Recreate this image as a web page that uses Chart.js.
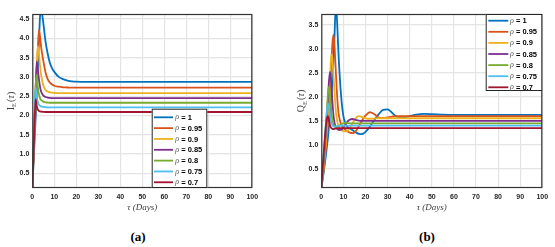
<!DOCTYPE html>
<html><head><meta charset="utf-8">
<script src="https://cdn.jsdelivr.net/npm/chart.js@4.4.1/dist/chart.umd.min.js"></script>
<style>
body{margin:0;background:#fff;width:555px;height:247px;overflow:hidden;position:relative}
canvas{position:absolute;top:0}
.lab{position:absolute;top:229px;line-height:15px;font:bold 13px 'Liberation Serif',serif;color:#000;transform:translateX(-50%)}
</style></head><body>
<canvas id="cI" style="left:0" width="270" height="215"></canvas>
<canvas id="cQ" style="left:280px" width="275" height="215"></canvas>
<div class="lab" style="left:138px">(a)</div>
<div class="lab" style="left:427px">(b)</div>
<script>
// ---------- data ----------
const rhoLabels = ['1','0.95','0.9','0.85','0.8','0.75','0.7'];
const xTicks = [0,10,20,30,40,50,60,70,80,90,100];
const yTicksI = [0.5,1,1.5,2,2.5,3,3.5,4,4.5];
const yTicksQ = [0.5,1,1.5,2,2.5,3,3.5];

const tauI = [0,0.5,1,1.5,2,2.5,3,3.5,4,5,6,7,8,9,10,12,14,16,18,20,25,30,40,50,60,70,80,90,100];
const I_rho100 = [0.1,0.7,1.3,1.9,2.55,3.2,3.9,4.55,4.75,4.4,3.92,3.6,3.36,3.22,3.13,3.0,2.94,2.905,2.885,2.875,2.87,2.87,2.87,2.87,2.87,2.87,2.87,2.87,2.87];
const I_rho095 = [0.1,0.8,1.5,2.2,2.95,3.7,4.22,4.05,3.78,3.42,3.12,2.94,2.85,2.8,2.77,2.745,2.73,2.725,2.72,2.72,2.72,2.72,2.72,2.72,2.72,2.72,2.72,2.72,2.72];
const I_rho090 = [0.1,0.85,1.6,2.4,3.2,3.8,3.6,3.3,3.05,2.78,2.66,2.62,2.6,2.59,2.585,2.58,2.58,2.58,2.58,2.58,2.58,2.58,2.58,2.58,2.58,2.58,2.58,2.58,2.58];
const I_rho085 = [0.1,0.95,1.8,2.65,3.4,3.2,2.95,2.75,2.62,2.52,2.48,2.465,2.455,2.45,2.45,2.45,2.45,2.45,2.45,2.45,2.45,2.45,2.45,2.45,2.45,2.45,2.45,2.45,2.45];
const I_rho080 = [0.1,1.0,1.9,2.75,3.05,2.75,2.55,2.45,2.4,2.36,2.34,2.335,2.33,2.33,2.33,2.33,2.33,2.33,2.33,2.33,2.33,2.33,2.33,2.33,2.33,2.33,2.33,2.33,2.33];
const I_rho075 = [0.1,1.0,1.9,2.72,2.5,2.35,2.28,2.25,2.235,2.22,2.215,2.21,2.21,2.21,2.21,2.21,2.21,2.21,2.21,2.21,2.21,2.21,2.21,2.21,2.21,2.21,2.21,2.21,2.21];
const I_rho070 = [0.1,0.9,1.75,2.42,2.25,2.16,2.12,2.105,2.1,2.095,2.09,2.09,2.09,2.09,2.09,2.09,2.09,2.09,2.09,2.09,2.09,2.09,2.09,2.09,2.09,2.09,2.09,2.09,2.09];

const tauQ = [0,1,2,2.5,3,3.5,4,4.5,5,5.5,6,6.5,7,7.5,8,9,10,11,12,13,14,15,16,17,18,19,20,22,24,26,28,30,32,34,36,38,40,43,46,50,55,60,70,80,90,100];
const Q_rho100 = [0.1,0.4,0.75,0.95,1.15,1.4,1.65,1.95,2.3,2.75,3.3,3.85,3.7,3.2,2.7,2.0,1.6,1.43,1.37,1.34,1.31,1.28,1.25,1.23,1.225,1.235,1.27,1.38,1.52,1.64,1.73,1.74,1.67,1.59,1.57,1.58,1.6,1.63,1.645,1.64,1.63,1.625,1.625,1.625,1.625,1.625];
const Q_rho095 = [0.1,0.45,0.9,1.15,1.45,1.8,2.2,2.65,3.1,3.3,3.05,2.6,2.15,1.8,1.6,1.42,1.35,1.31,1.28,1.255,1.245,1.26,1.31,1.39,1.47,1.55,1.61,1.68,1.64,1.57,1.56,1.575,1.59,1.6,1.6,1.6,1.6,1.6,1.6,1.6,1.6,1.6,1.6,1.6,1.6,1.6];
const Q_rho090 = [0.1,0.5,1.0,1.3,1.65,2.05,2.45,2.88,2.8,2.45,2.1,1.75,1.55,1.43,1.37,1.31,1.285,1.28,1.3,1.36,1.44,1.52,1.575,1.6,1.59,1.57,1.555,1.545,1.55,1.555,1.555,1.555,1.555,1.555,1.555,1.555,1.555,1.555,1.555,1.555,1.555,1.555,1.555,1.555,1.555,1.555];
const Q_rho085 = [0.1,0.6,1.2,1.55,1.95,2.35,2.52,2.3,1.92,1.62,1.46,1.38,1.34,1.32,1.31,1.315,1.36,1.43,1.495,1.53,1.54,1.53,1.515,1.505,1.5,1.5,1.5,1.5,1.5,1.5,1.5,1.5,1.5,1.5,1.5,1.5,1.5,1.5,1.5,1.5,1.5,1.5,1.5,1.5,1.5,1.5];
const Q_rho080 = [0.1,0.7,1.35,1.7,2.05,2.22,2.0,1.72,1.53,1.43,1.385,1.37,1.37,1.38,1.395,1.43,1.455,1.46,1.455,1.45,1.45,1.45,1.45,1.45,1.45,1.45,1.45,1.45,1.45,1.45,1.45,1.45,1.45,1.45,1.45,1.45,1.45,1.45,1.45,1.45,1.45,1.45,1.45,1.45,1.45,1.45];
const Q_rho075 = [0.1,0.75,1.4,1.68,1.86,1.8,1.6,1.47,1.41,1.385,1.38,1.385,1.39,1.395,1.4,1.4,1.4,1.4,1.4,1.4,1.4,1.4,1.4,1.4,1.4,1.4,1.4,1.4,1.4,1.4,1.4,1.4,1.4,1.4,1.4,1.4,1.4,1.4,1.4,1.4,1.4,1.4,1.4,1.4,1.4,1.4];
const Q_rho070 = [0.1,0.75,1.35,1.55,1.6,1.5,1.4,1.35,1.335,1.33,1.335,1.34,1.345,1.35,1.35,1.35,1.35,1.35,1.35,1.35,1.35,1.35,1.35,1.35,1.35,1.35,1.35,1.35,1.35,1.35,1.35,1.35,1.35,1.35,1.35,1.35,1.35,1.35,1.35,1.35,1.35,1.35,1.35,1.35,1.35,1.35];

// ---------- styles ----------
const lineColors = ['#0072BD','#D95319','#EDB120','#7E2F8E','#77AC30','#4DBEEE','#A2142F'];
const gridColor = '#e4e4e4';

const frame = {
  id: 'frame',
  afterDraw(chart, args, o) {
    const ctx = chart.ctx, a = chart.chartArea;
    ctx.save();
    ctx.strokeStyle = '#333'; ctx.lineWidth = 1.2;
    ctx.strokeRect(a.left + 0.5, a.top + 0.5, a.right - a.left - 1, a.bottom - a.top - 1);
    // y axis title with subscript
    ctx.save();
    ctx.translate(o.titleX, (a.top + a.bottom) / 2);
    ctx.rotate(-Math.PI / 2);
    ctx.fillStyle = '#404040'; ctx.textBaseline = 'alphabetic';
    const fMain = '10px "Liberation Serif"', fSub = '6.5px "Liberation Serif"', fIt = 'italic 10px "Liberation Serif"';
    ctx.font = fMain; const w1 = ctx.measureText(o.titleMain).width; const wp = ctx.measureText('(').width; const wq = ctx.measureText(')').width;
    ctx.font = fSub; const w2 = ctx.measureText(o.titleSub).width;
    ctx.font = fIt; const wt = ctx.measureText('τ').width;
    let x = -(w1 + w2 + wp + wt + wq + 1) / 2; const by = 3.5;
    ctx.font = fMain; ctx.fillText(o.titleMain, x, by); x += w1;
    ctx.font = fSub; ctx.fillText(o.titleSub, x, by + 2.5); x += w2 + 1;
    ctx.font = fMain; ctx.fillText('(', x, by); x += wp;
    ctx.font = fIt; ctx.fillText('τ', x, by); x += wt;
    ctx.font = fMain; ctx.fillText(')', x, by);
    ctx.restore();
    // legend box
    const L = o.legend;
    ctx.fillStyle = '#fff'; ctx.fillRect(L.x, L.y, L.w, L.h);
    ctx.strokeStyle = '#262626'; ctx.lineWidth = 1;
    ctx.strokeRect(L.x + 0.5, L.y + 0.5, L.w - 1, L.h - 1);
    chart.data.datasets.forEach((ds, k) => {
      const y = L.y + L.first + k * L.dy;
      ctx.strokeStyle = ds.borderColor; ctx.lineWidth = 1.8;
      ctx.beginPath(); ctx.moveTo(L.x + L.l0, y); ctx.lineTo(L.x + L.l1, y); ctx.stroke();
      ctx.textBaseline = 'middle'; ctx.textAlign = 'left';
      ctx.fillStyle = '#555'; ctx.font = 'italic 8px "Liberation Serif"';
      ctx.fillText('ρ', L.x + L.t0, y);
      const w = ctx.measureText('ρ').width;
      ctx.fillStyle = '#000'; ctx.font = 'bold 7.5px "Liberation Sans"';
      ctx.fillText(' = ' + rhoLabels[k], L.x + L.t0 + w, y + 0.5);
    });
    ctx.restore();
  }
};

function build(id, tau, series, o) {
  const datasets = series.map((vals, k) => ({
    label: 'ρ = ' + rhoLabels[k],
    data: tau.map((t, i) => ({ x: t, y: vals[i] })),
    borderColor: lineColors[k], backgroundColor: lineColors[k],
    borderWidth: 1.8, pointRadius: 0, fill: false,
    cubicInterpolationMode: 'monotone', order: series.length - k
  }));
  const tickFont = { family: 'Liberation Sans', weight: 'bold', size: 7 };
  return new Chart(document.getElementById(id), {
    type: 'line',
    data: { datasets },
    options: {
      responsive: false, animation: false, devicePixelRatio: 1,
      layout: { padding: { top: o.padTop, right: o.padRight, left: 0, bottom: 0 } },
      plugins: { legend: { display: false }, tooltip: { enabled: false },
        frame: { titleX: o.titleX, titleMain: o.titleMain, titleSub: o.titleSub, legend: o.legend } },
      scales: {
        x: {
          type: 'linear', min: 0, max: 100,
          afterBuildTicks: s => { s.ticks = xTicks.map(v => ({ value: v })); },
          afterFit: s => { s.height = o.xH; },
          grid: { color: gridColor, lineWidth: 1.2, drawTicks: false },
          border: { display: false },
          ticks: { font: tickFont, color: '#262626', padding: 5, maxRotation: 0, autoSkip: false },
          title: { display: true, text: 'τ (Days)', color: '#404040',
                   font: { family: 'Liberation Serif', style: 'italic', size: 9 }, padding: { top: 0, bottom: 2 } }
        },
        y: {
          type: 'linear', min: o.yMin, max: o.yMax,
          afterBuildTicks: s => { s.ticks = o.yTicks.map(v => ({ value: v })); },
          afterFit: s => { s.width = o.yW; },
          grid: { color: gridColor, lineWidth: 1.2, drawTicks: false },
          border: { display: false },
          ticks: { font: tickFont, color: '#262626', padding: 3, autoSkip: false }
        }
      }
    },
    plugins: [frame]
  });
}

build('cI', tauI, [I_rho100, I_rho095, I_rho090, I_rho085, I_rho080, I_rho075, I_rho070], {
  yMin: 0.12, yMax: 4.63, yTicks: yTicksI, yW: 32.3, xH: 27, padTop: 14, padRight: 17.7,
  titleX: 10, titleMain: 'I', titleSub: 'E',
  legend: { x: 151.7, y: 108.7, w: 55.6, h: 79.3, first: 8.6, dy: 10.83, l0: 2.3, l1: 21.3, t0: 23.6 }
});
build('cQ', tauQ, [Q_rho100, Q_rho095, Q_rho090, Q_rho085, Q_rho080, Q_rho075, Q_rho070], {
  yMin: 0.1, yMax: 3.73, yTicks: yTicksQ, yW: 41.3, xH: 27, padTop: 14, padRight: 12.7,
  titleX: 20.7, titleMain: 'Q', titleSub: 'E',
  legend: { x: 205.7, y: 14, w: 56.6, h: 77, first: 6.7, dy: 11.1, l0: 2.6, l1: 22.6, t0: 24.3 }
});
</script>
</body></html>
